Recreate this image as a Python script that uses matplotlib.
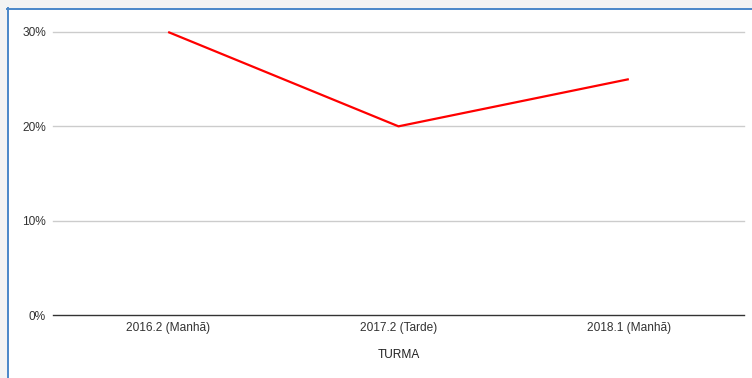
import matplotlib
matplotlib.use("Agg")
import matplotlib.pyplot as plt
from matplotlib.lines import Line2D
from matplotlib.patches import Rectangle
from matplotlib.ticker import FuncFormatter

categories = ["2016.2 (Manhã)", "2017.2 (Tarde)", "2018.1 (Manhã)"]
values = [0.30, 0.20, 0.25]
y_ticks = [0.0, 0.10, 0.20, 0.30]
x_title = "TURMA"

plt.rcParams["font.family"] = ["Liberation Sans", "DejaVu Sans"]

W, H = 752, 378
fig = plt.figure(figsize=(W / 100, H / 100), dpi=100)
fig.patch.set_facecolor("#f3f3f3")

# white chart card with blue selection border on left and top
fig.add_artist(Rectangle((7 / W, 0), 1 - 7 / W, 1 - 8 / H, transform=fig.transFigure,
                         facecolor="white", edgecolor="none", zorder=0))
fig.add_artist(Line2D([7.5 / W, 7.5 / W], [0, 1 - 8 / H], transform=fig.transFigure,
                      color="#4a86c8", lw=1.4, zorder=5))
fig.add_artist(Line2D([7 / W, 1], [1 - 8.5 / H, 1 - 8.5 / H], transform=fig.transFigure,
                      color="#4a86c8", lw=1.4, zorder=5))

left, right = 53 / W, 744 / W
bottom, top = 1 - 315 / H, 1 - 32 / H
ax = fig.add_axes([left, bottom, right - left, top - bottom])
ax.set_facecolor("none")

x = list(range(len(categories)))
ax.plot(x, values, color="#ff0000", lw=1.6, clip_on=False, zorder=3,
        solid_capstyle="butt")

ax.set_xlim(-0.5, len(categories) - 0.5)
ax.set_ylim(0, 0.30)
ax.set_yticks(y_ticks)
ax.yaxis.set_major_formatter(FuncFormatter(lambda v, p: f"{v * 100:.0f}%"))
ax.set_xticks(x)
ax.set_xticklabels(categories)

for yv in y_ticks[1:]:
    ax.axhline(yv, color="#cccccc", lw=1.0, zorder=1, clip_on=False)
ax.axhline(0, color="#333333", lw=1.0, zorder=2, clip_on=False)

for s in ax.spines.values():
    s.set_visible(False)
ax.tick_params(axis="both", length=0, labelsize=8.6, colors="#333333")
ax.tick_params(axis="x", pad=5)
ax.tick_params(axis="y", pad=5)

ax.set_xlabel(x_title, fontsize=8.6, color="#222222", labelpad=11)

fig.savefig("out.png", dpi=100, facecolor=fig.get_facecolor())
